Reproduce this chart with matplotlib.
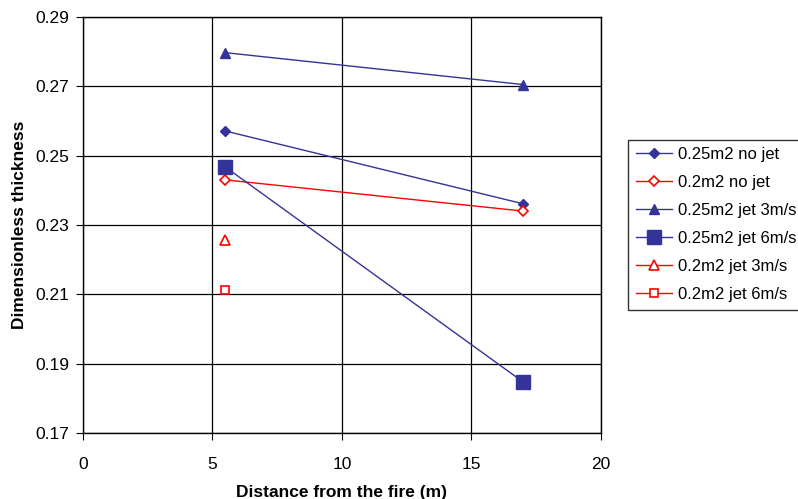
import matplotlib
matplotlib.use("Agg")
import matplotlib.pyplot as plt

plt.rcParams['font.family'] = ['Liberation Sans', 'DejaVu Sans']

x_two = [5.5, 17.0]
x_one = [5.5]
no_jet_025 = [0.2571, 0.2361]
no_jet_02 = [0.2430, 0.2340]
jet3_025 = [0.2797, 0.2705]
jet6_025 = [0.2467, 0.1847]
jet3_02 = [0.2257]
jet6_02 = [0.2113]
labels = ["0.25m2 no jet", "0.2m2 no jet", "0.25m2 jet 3m/s",
          "0.25m2 jet 6m/s", "0.2m2 jet 3m/s", "0.2m2 jet 6m/s"]
yticks = [0.17, 0.19, 0.21, 0.23, 0.25, 0.27, 0.29]
xticks = [0, 5, 10, 15, 20]

blue = '#333399'
red = '#FF0000'

fig = plt.figure(figsize=(7.98, 4.99), dpi=100)
ax = fig.add_axes([0.104, 0.1323, 0.649, 0.8337])

ax.plot(x_two, no_jet_025, color=blue, lw=1, marker='D', ms=5.5, mfc=blue, mec=blue, label=labels[0])
ax.plot(x_two, no_jet_02, color=red, lw=1, marker='D', ms=5, mfc='white', mec=red, mew=1.2, label=labels[1])
ax.plot(x_two, jet3_025, color=blue, lw=1, marker='^', ms=7, mfc=blue, mec=blue, label=labels[2])
ax.plot(x_two, jet6_025, color=blue, lw=1, marker='s', ms=10, mfc=blue, mec=blue, label=labels[3])
ax.plot(x_one, jet3_02, color=red, lw=1, marker='^', ms=6.5, mfc='white', mec=red, mew=1.2, label=labels[4])
ax.plot(x_one, jet6_02, color=red, lw=1, marker='s', ms=6, mfc='white', mec=red, mew=1.2, label=labels[5])

ax.set_xlim(0, 20)
ax.set_ylim(0.17, 0.29)
ax.set_xticks(xticks)
ax.set_yticks(yticks)
ax.set_yticklabels([f"{v:.2f}" for v in yticks])
ax.grid(True, color='black', lw=0.9)
ax.set_axisbelow(True)
for s in ax.spines.values():
    s.set_color('black')
    s.set_linewidth(1)
ax.tick_params(axis='both', direction='out', length=5, color='black', labelsize=12.5)
ax.tick_params(axis='x', pad=12)
ax.tick_params(axis='y', pad=5)
ax.set_xlabel("Distance from the fire (m)", fontsize=12.5, fontweight='bold', labelpad=10)
ax.set_ylabel("Dimensionless thickness", fontsize=12.5, fontweight='bold', labelpad=5.5)

leg = fig.legend(loc='upper left', bbox_to_anchor=(0.787, 0.72), frameon=True, fancybox=False,
                 edgecolor='black', fontsize=12, handlelength=2.2, labelspacing=0.78,
                 borderpad=0.45, handletextpad=0.35, borderaxespad=0)
leg.get_frame().set_linewidth(1)

fig.savefig("out.png", dpi=100)
